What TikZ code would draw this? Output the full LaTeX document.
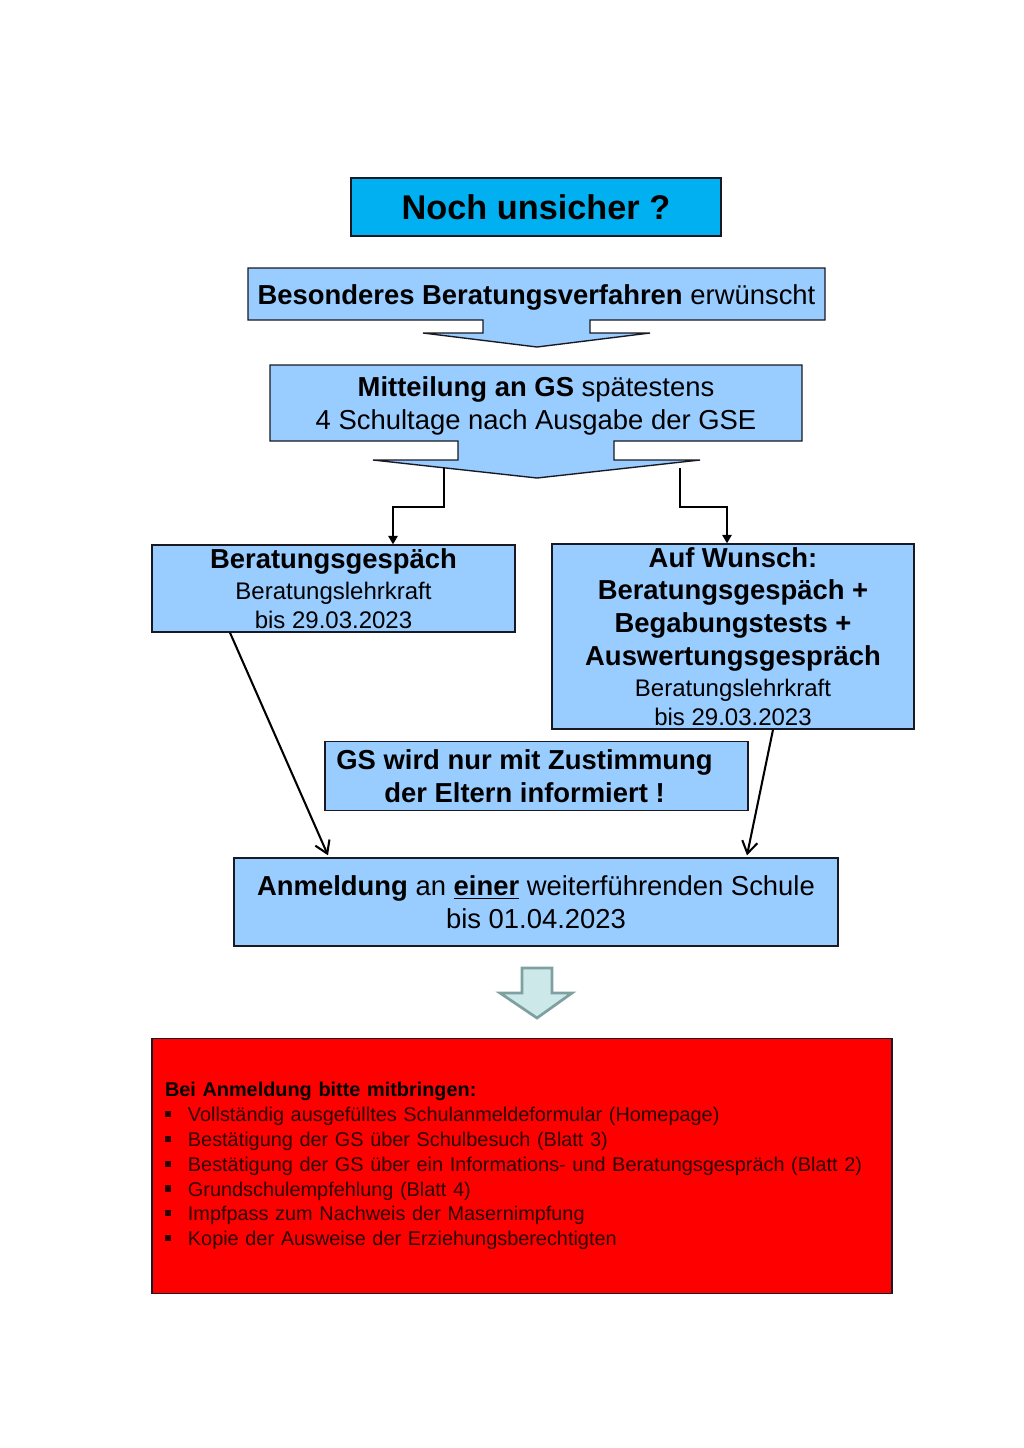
\documentclass[tikz,border=0pt]{standalone}
\usepackage{fontspec}
\setmainfont{Liberation Sans}
\usetikzlibrary{arrows.meta, calc}
\definecolor{boxblue}{RGB}{153,204,255}
\definecolor{titlecyan}{RGB}{0,176,240}
\definecolor{listred}{RGB}{255,0,0}
\definecolor{itemtext}{RGB}{45,0,0}
\definecolor{arrowteal}{RGB}{204,232,232}
\definecolor{arrowedge}{RGB}{127,160,160}
\definecolor{darkline}{RGB}{25,25,35}
\newcommand{\pxlen}[1]{#1*0.020508cm}
\newcommand{\subline}{\fontsize{14}{16.8}\selectfont}
\newcommand{\listmark}{\makebox[13.4pt][l]{\raisebox{2.6pt}{\rule{3.6pt}{3.6pt}}}}

\begin{document}
\begin{tikzpicture}[
    x=0.020508cm, y=-0.020508cm,
    box/.style={rectangle, draw=darkline, fill=boxblue, line width=0.8pt, align=center, inner sep=1pt, font=\fontsize{16}{19.2}\selectfont},
    callout/.style={draw=darkline, fill=boxblue, line width=0.8pt},
    calltext/.style={align=center, inner sep=1pt, font=\fontsize{16}{19.2}\selectfont},
    elbow/.style={-{Triangle[length=5pt, width=5.5pt]}, line width=1.2pt},
    slant/.style={-{Straight Barb[length=7pt, width=9pt, line width=1.2pt]}, line width=1.2pt}
]
\useasboundingbox (0,0) rectangle (1024,1448);

% Title
\node[box, fill=titlecyan, minimum width=\pxlen{370}, minimum height=\pxlen{58}, font=\fontsize{20}{24}\selectfont\bfseries] (title) at (536,207) {Noch unsicher ?};

% Callouts with down arrows
\draw[callout] (248,268) -- (825,268) -- (825,320) -- (590,320) -- (590,333) -- (650,333) -- (537,347) -- (423,333) -- (483,333) -- (483,320) -- (248,320) -- cycle;
\node[calltext] (besond) at (536.5,297) {\textbf{Besonderes Beratungsverfahren} erwünscht};

\draw[callout] (270,365) -- (802,365) -- (802,441) -- (614,441) -- (614,460) -- (700,460) -- (537,478) -- (373,460) -- (458,460) -- (458,441) -- (270,441) -- cycle;
\node[calltext] (mitteil) at (536,406) {\textbf{Mitteilung an GS} spätestens\\4 Schultage nach Ausgabe der GSE};
\coordinate (splitL) at (444,468);
\coordinate (splitR) at (680,468);

% Counselling boxes
\node[box, minimum width=\pxlen{363}, minimum height=\pxlen{87}] (berat) at (333.5,588.5) {\textbf{Beratungsgespäch}\\[-1pt]{\subline Beratungslehrkraft}\\[-2.5pt]{\subline bis 29.03.2023}};
\node[box, minimum width=\pxlen{362}, minimum height=\pxlen{185}] (wunsch) at (733,636.5) {\textbf{Auf Wunsch:}\\\textbf{Beratungsgespäch +}\hspace*{12pt}\\\textbf{Begabungstests +}\hspace*{6pt}\\\textbf{Auswertungsgespräch}\\[-1pt]{\subline Beratungslehrkraft}\\[-2.5pt]{\subline bis 29.03.2023}};
\node[box, minimum width=\pxlen{423}, minimum height=\pxlen{69}, font=\fontsize{16}{19.2}\selectfont\bfseries] (eltern) at (536.5,776) {GS wird nur mit Zustimmung\hspace*{14pt}\\der Eltern informiert !\hspace*{14pt}};
\node[box, minimum width=\pxlen{604}, minimum height=\pxlen{88}] (anmeld) at (536,902) {\textbf{Anmeldung} an \underline{\textbf{einer}} weiterführenden Schule\\bis 01.04.2023};

% Connectors
\draw[elbow] (splitL) |- ($(berat.north)+(59.5,-37)$) -- ($(berat.north)+(59.5,0)$);
\draw[elbow] (splitR) |- ($(wunsch.north)+(-6,-36)$) -- ($(wunsch.north)+(-6,0)$);
\draw[slant] ($(berat.south)+(-103.5,0)$) -- ($(anmeld.north)+(-208,-2)$);
\draw[slant] ($(wunsch.south)+(40,0)$) -- ($(anmeld.north)+(211,-2)$);

% Small arrow
\draw[fill=arrowteal, draw=arrowedge, line width=1.6pt, line join=miter] (522,968) -- (552,968) -- (552,993) -- (572,993) -- (537,1018) -- (500,993) -- (522,993) -- cycle;

% List of documents
\node[rectangle, draw=darkline, fill=listred, line width=0.8pt, minimum width=\pxlen{740}, minimum height=\pxlen{255}, text width=\pxlen{714}, align=left, inner xsep=\pxlen{13}, inner ysep=0pt, font=\fontsize{11.6}{14.5}\selectfont] (liste) at (522,1166) {\textbf{Bei Anmeldung bitte mitbringen:}\\
\color{itemtext}\listmark Vollständig ausgefülltes Schulanmeldeformular (Homepage)\\
\listmark Bestätigung der GS über Schulbesuch (Blatt 3)\\
\listmark Bestätigung der GS über ein Informations- und Beratungsgespräch (Blatt 2)\\
\listmark Grundschulempfehlung (Blatt 4)\\
\listmark Impfpass zum Nachweis der Masernimpfung\\
\listmark Kopie der Ausweise der Erziehungsberechtigten};

\end{tikzpicture}
\end{document}
